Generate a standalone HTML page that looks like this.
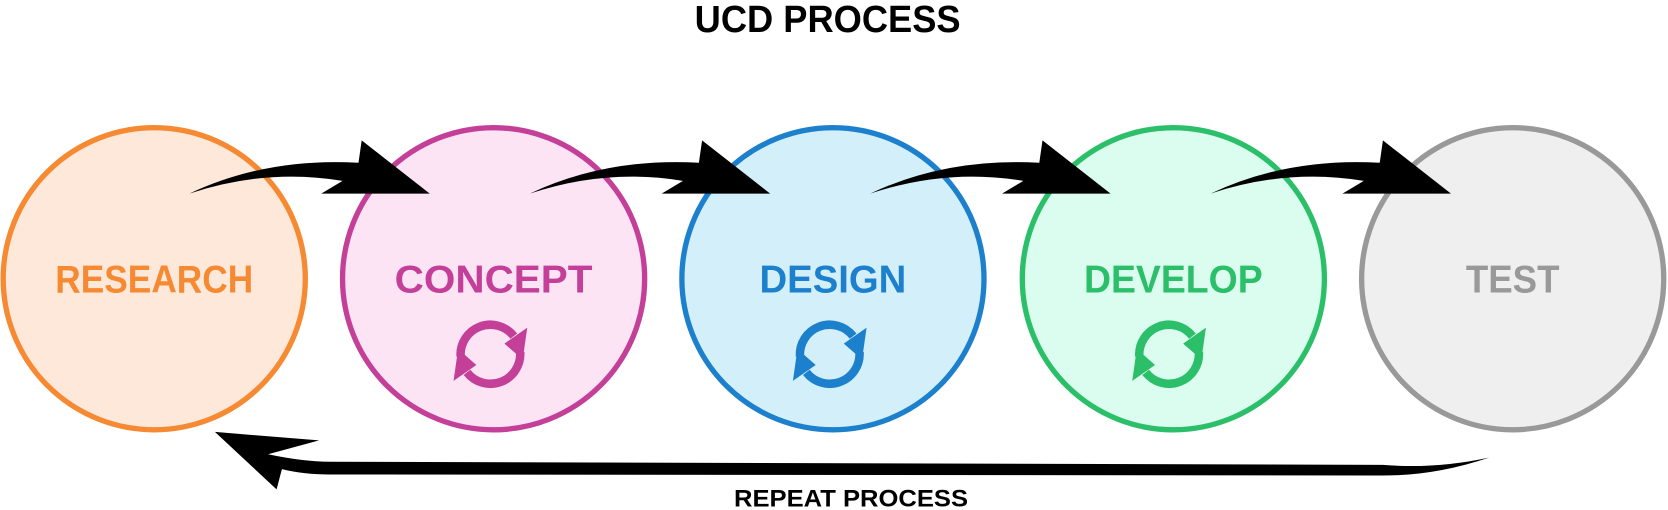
<!DOCTYPE html>
<html><head><meta charset="utf-8"><style>
html,body{margin:0;padding:0;background:#fff;}
svg{display:block;}
text{font-family:"Liberation Sans",sans-serif;font-weight:bold;}
</style></head><body>
<svg width="1668" height="510" viewBox="0 0 1568 479.4" preserveAspectRatio="none" xmlns="http://www.w3.org/2000/svg">
<defs>
<path id="arr" d="M178,182 Q250,148 337,153 L340,132 L404,182 L302,182 L322,170 Q250,158 178,182 Z" fill="#000"/>
<g id="cyc">
<path d="M-28,2 A28,28 0 0 1 22,-17" fill="none" stroke-width="8"/>
<path d="M28,-2 A28,28 0 0 1 -22,17" fill="none" stroke-width="8"/>
<polygon points="34,-24 30,4 14,-10"/>
<polygon points="-34,24 -30,-4 -14,10"/>
</g>
</defs>
<text x="778" y="30" font-size="36" text-anchor="middle" fill="#000" textLength="250" lengthAdjust="spacingAndGlyphs">UCD PROCESS</text>

<circle cx="145" cy="262" r="142" fill="#fde8da" stroke="#f68a33" stroke-width="5"/>
<circle cx="464" cy="262" r="142" fill="#fce4f5" stroke="#c33f98" stroke-width="5"/>
<circle cx="783" cy="262" r="142" fill="#d3f0fa" stroke="#1d80cc" stroke-width="5"/>
<circle cx="1103" cy="262" r="142" fill="#dafdf0" stroke="#2cbf69" stroke-width="5"/>
<circle cx="1422" cy="262" r="142" fill="#efefef" stroke="#999" stroke-width="5"/>

<text x="145" y="275" font-size="37" text-anchor="middle" fill="#f68a33" textLength="186" lengthAdjust="spacingAndGlyphs">RESEARCH</text>
<text x="464" y="275" font-size="37" text-anchor="middle" fill="#c33f98" textLength="186" lengthAdjust="spacingAndGlyphs">CONCEPT</text>
<text x="783" y="275" font-size="37" text-anchor="middle" fill="#1d80cc" textLength="138" lengthAdjust="spacingAndGlyphs">DESIGN</text>
<text x="1103" y="275" font-size="37" text-anchor="middle" fill="#2cbf69" textLength="168" lengthAdjust="spacingAndGlyphs">DEVELOP</text>
<text x="1422" y="275" font-size="37" text-anchor="middle" fill="#999" textLength="88" lengthAdjust="spacingAndGlyphs">TEST</text>

<use href="#cyc" x="461" y="333" fill="#c33f98" stroke="#c33f98"/>
<use href="#cyc" x="780" y="333" fill="#1d80cc" stroke="#1d80cc"/>
<use href="#cyc" x="1099" y="333" fill="#2cbf69" stroke="#2cbf69"/>

<use href="#arr" x="0"/>
<use href="#arr" x="320"/>
<use href="#arr" x="640"/>
<use href="#arr" x="960"/>

<path d="M202,406 L300,414 L252,427 Q285,434 310,434 L1300,437 Q1350,441 1400,430 Q1350,447 1300,447 L310,446 Q285,446 265,441 L260,460 Z" fill="#000"/>
<text x="800" y="476" font-size="23" text-anchor="middle" fill="#000" textLength="220" lengthAdjust="spacingAndGlyphs">REPEAT PROCESS</text>
</svg>
</body></html>
